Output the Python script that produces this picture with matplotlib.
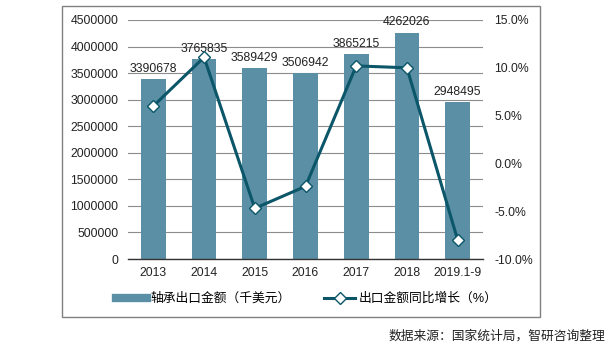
import matplotlib
matplotlib.use("Agg")
import matplotlib.pyplot as plt
from matplotlib.lines import Line2D
from matplotlib.patches import Rectangle
from matplotlib.ticker import FuncFormatter

plt.rcParams['font.family'] = ['Liberation Sans', 'Noto Sans CJK SC', 'DejaVu Sans']

categories = ['2013', '2014', '2015', '2016', '2017', '2018', '2019.1-9']
export_value = [3390678, 3765835, 3589429, 3506942, 3865215, 4262026, 2948495]
growth_pct = [6.0, 11.1, -4.7, -2.4, 10.2, 10.0, -8.0]
left_ticks = [0, 500000, 1000000, 1500000, 2000000, 2500000, 3000000, 3500000, 4000000, 4500000]
right_ticks = [-10, -5, 0, 5, 10, 15]

bar_color = '#5b8fa6'
line_color = '#0b5669'
W, H = 616, 346

fig = plt.figure(figsize=(W / 100, H / 100), dpi=100)
ax = fig.add_axes([128 / W, 1 - 259 / H, (483 - 128) / W, (259 - 20) / H])
x = list(range(len(categories)))
ax.bar(x, export_value, width=0.49, color=bar_color, zorder=2)
ax.set_ylim(0, 4500000)
ax.set_xlim(-0.5, len(categories) - 0.5)
ax.set_yticks(left_ticks)
ax.set_yticklabels([str(v) for v in left_ticks])
ax.set_xticks(x)
ax.set_xticklabels(categories)
ax.grid(axis='y', color='#8c8c8c', lw=0.8, zorder=0)
ax.set_axisbelow(True)
for s in ['left', 'right', 'top']:
    ax.spines[s].set_visible(False)
ax.spines['bottom'].set_color('#333333')
ax.spines['bottom'].set_linewidth(1.0)
ax.tick_params(axis='both', length=0, labelsize=8.8, colors='#222222')
ax.tick_params(axis='y', pad=7)
ax.tick_params(axis='x', pad=6)
for xi, v in zip(x, export_value):
    ax.annotate(str(v), (xi, v), xytext=(0, 3), textcoords='offset points',
                ha='center', va='bottom', fontsize=8.8, color='#222222', zorder=5)

ax2 = ax.twinx()
ax2.plot(x, growth_pct, color=line_color, lw=2.2, marker='D', markersize=6.5,
         markerfacecolor='white', markeredgecolor=line_color, markeredgewidth=1.0, zorder=4)
ax2.set_ylim(-10, 15)
ax2.set_yticks(right_ticks)
ax2.yaxis.set_major_formatter(FuncFormatter(lambda v, p: f'{v:.1f}%'))
for s in ['left', 'right', 'top', 'bottom']:
    ax2.spines[s].set_visible(False)
ax2.tick_params(axis='y', length=0, labelsize=8.8, colors='#222222', pad=8)

handles = [Line2D([0], [0], color=bar_color, lw=6),
           Line2D([0], [0], color=line_color, lw=2.2, marker='D', markersize=6,
                  markerfacecolor='white', markeredgecolor=line_color)]
labels = ['轴承出口金额（千美元）', '出口金额同比增长（%）']
fig.legend(handles, labels, loc='center', bbox_to_anchor=(307 / W, 1 - 299 / H),
           ncol=2, frameon=False, fontsize=9.2, handlelength=2.4, columnspacing=2.6,
           handletextpad=0.3)

fig.patches.append(Rectangle((62 / W, 1 - 317 / H), (540 - 62) / W, (317 - 6) / H,
                             transform=fig.transFigure, fill=False,
                             edgecolor='#808080', lw=1.0))
fig.text(605 / W, 1 - 336 / H, '数据来源：国家统计局，智研咨询整理', ha='right', va='center',
         fontsize=9.2, color='#222222')

fig.savefig('out.png', dpi=100)
